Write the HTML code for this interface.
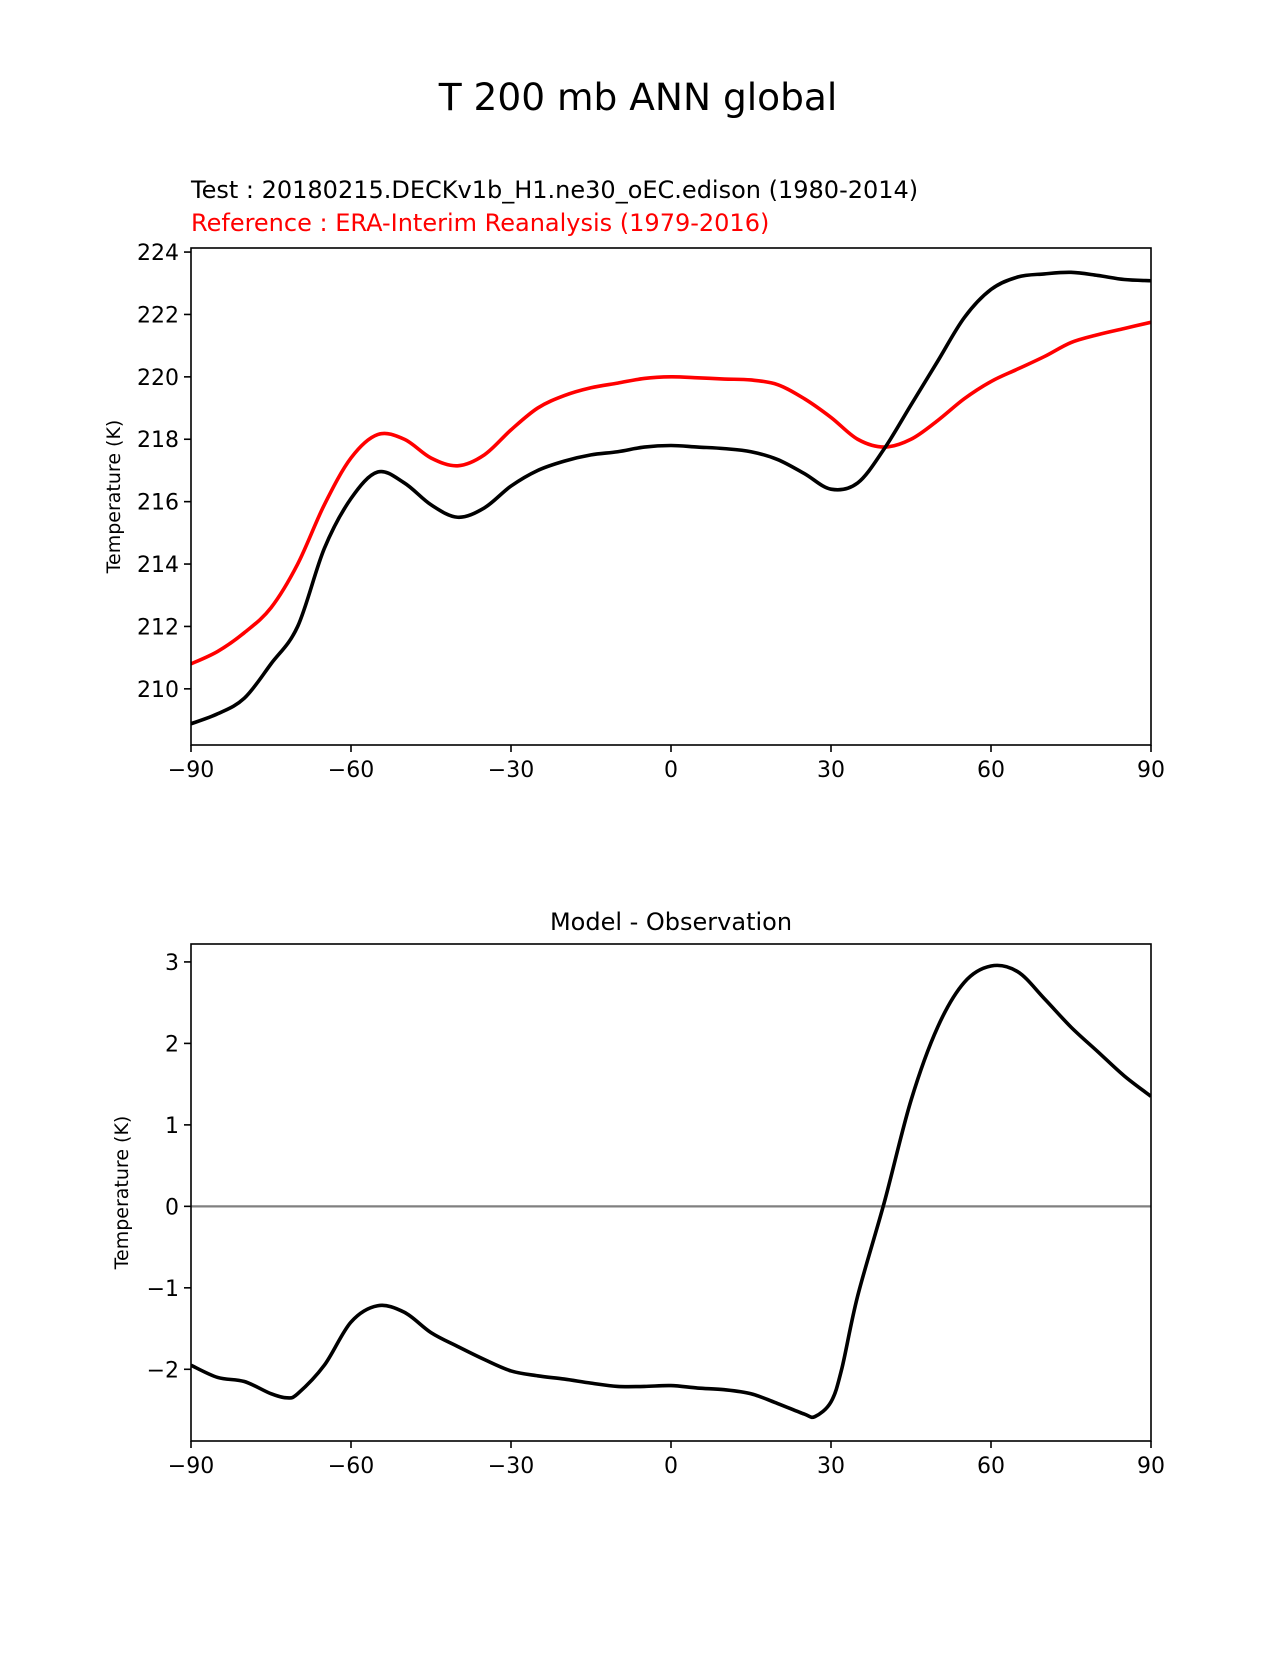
<!DOCTYPE html>
<html><head><meta charset="utf-8"><style>
body{margin:0;background:#fff}
svg text{font-family:"DejaVu Sans","Liberation Sans",sans-serif}
</style></head><body>
<svg id="fig" width="1275" height="1650" viewBox="0 0 1275 1650" xmlns="http://www.w3.org/2000/svg">
<rect width="1275" height="1650" fill="#fff"/>
<text x="638" y="110" font-size="37.5" text-anchor="middle">T 200 mb ANN global</text>
<text x="191" y="198" font-size="24">Test : 20180215.DECKv1b_H1.ne30_oEC.edison (1980-2014)</text>
<text x="191" y="231" font-size="24" fill="#ff0000">Reference : ERA-Interim Reanalysis (1979-2016)</text>
<text x="671" y="930" font-size="24" text-anchor="middle">Model - Observation</text>
<g id="topg"></g>
<g id="botg"></g>
</svg>
<script>
const lats = [-90,-85,-80,-75,-70,-65,-60,-55,-50,-45,-40,-35,-30,-25,-20,-15,-10,-5,0,5,10,15,20,25,30,35,40,45,50,55,60,65,70,75,80,85,90];
const testVals = [208.88,209.2,209.7,210.8,212.0,214.5,216.1,216.95,216.6,215.9,215.5,215.8,216.5,217.0,217.3,217.5,217.6,217.75,217.8,217.75,217.7,217.6,217.35,216.9,216.4,216.6,217.7,219.1,220.5,221.9,222.8,223.2,223.3,223.35,223.25,223.12,223.08];
const refVals = [210.8,211.2,211.8,212.6,214.0,215.9,217.4,218.15,218.0,217.4,217.15,217.5,218.3,219.0,219.4,219.65,219.8,219.95,220.0,219.97,219.93,219.9,219.75,219.3,218.7,218.0,217.75,218.0,218.6,219.3,219.85,220.25,220.65,221.1,221.35,221.55,221.75];
const diffLats = [-90,-85,-80,-75,-72,-70,-65,-60,-55,-50,-45,-40,-35,-30,-25,-20,-15,-10,-5,0,5,10,15,20,25,27,30,32,35,40,45,50,55,60,65,70,75,80,85,90];
const diffVals = [-1.95,-2.1,-2.15,-2.3,-2.35,-2.3,-1.95,-1.42,-1.22,-1.3,-1.55,-1.72,-1.88,-2.02,-2.08,-2.12,-2.17,-2.21,-2.21,-2.2,-2.23,-2.25,-2.3,-2.42,-2.55,-2.58,-2.4,-2.0,-1.1,0.05,1.3,2.2,2.75,2.95,2.88,2.55,2.2,1.9,1.6,1.35];
const xTicks = [-90,-60,-30,0,30,60,90];
const xTickLabels = ['\u221290','\u221260','\u221230','0','30','60','90'];
const topYTicks = [210,212,214,216,218,220,222,224];
const botYTicks = [-2,-1,0,1,2,3];
const botYTickLabels = ['\u22122','\u22121','0','1','2','3'];

const NS='http://www.w3.org/2000/svg';
function mk(parent,tag,attrs){const e=document.createElementNS(NS,tag);for(const k in attrs)e.setAttribute(k,attrs[k]);parent.appendChild(e);return e;}
function smooth(pts){let d='M'+pts[0][0].toFixed(2)+','+pts[0][1].toFixed(2);
 for(let i=0;i<pts.length-1;i++){const p0=pts[Math.max(i-1,0)],p1=pts[i],p2=pts[i+1],p3=pts[Math.min(i+2,pts.length-1)];
 const c1=[p1[0]+(p2[0]-p0[0])/6,p1[1]+(p2[1]-p0[1])/6],c2=[p2[0]-(p3[0]-p1[0])/6,p2[1]-(p3[1]-p1[1])/6];
 d+='C'+c1[0].toFixed(2)+','+c1[1].toFixed(2)+' '+c2[0].toFixed(2)+','+c2[1].toFixed(2)+' '+p2[0].toFixed(2)+','+p2[1].toFixed(2);}
 return d;}
function panel(g,box,ymin,ymax,yt,ytl,ylabelX,prefix){
 const x=v=>box.l+(v+90)/180*(box.r-box.l);
 const y=v=>box.b-(v-ymin)/(ymax-ymin)*(box.b-box.t);
 const clipId=prefix+'-clip';
 const cp=mk(g,'clipPath',{id:clipId});mk(cp,'rect',{x:box.l,y:box.t,width:box.r-box.l,height:box.b-box.t});
 xTicks.forEach((v,i)=>{const t=mk(g,'line',{x1:x(v),x2:x(v),y1:box.b,y2:box.b+7,stroke:'#000','stroke-width':1.6});
  
  const tx=mk(g,'text',{x:x(v),y:box.b+32,'font-size':22,'text-anchor':'middle'});tx.textContent=xTickLabels[i];
  });
 yt.forEach((v,i)=>{const t=mk(g,'line',{x1:box.l-7,x2:box.l,y1:y(v),y2:y(v),stroke:'#000','stroke-width':1.6});
  
  const tx=mk(g,'text',{x:box.l-12,y:y(v)+8,'font-size':22,'text-anchor':'end'});tx.textContent=ytl[i];
  });
 const yl=mk(g,'text',{x:ylabelX,y:(box.t+box.b)/2,'font-size':19,'text-anchor':'middle',transform:'rotate(-90 '+ylabelX+' '+((box.t+box.b)/2)+')'});
 yl.textContent='Temperature (K)';
 
 return {x,y,clipId};
}
const topPanel=document.getElementById('topg'),botPanel=document.getElementById('botg');
const tb={l:191,r:1151,t:248,b:745};
const A=panel(topPanel,tb,208.2,224.13,topYTicks,topYTicks.map(String),120,'top');
const refPath=mk(topPanel,'path',{d:smooth(lats.map((v,i)=>[A.x(v),A.y(refVals[i])])),fill:'none',stroke:'#ff0000','stroke-width':3.6,'clip-path':'url(#'+A.clipId+')'});


const testPath=mk(topPanel,'path',{d:smooth(lats.map((v,i)=>[A.x(v),A.y(testVals[i])])),fill:'none',stroke:'#000','stroke-width':3.6,'clip-path':'url(#'+A.clipId+')'});


const f1=mk(topPanel,'rect',{x:tb.l,y:tb.t,width:tb.r-tb.l,height:tb.b-tb.t,fill:'none',stroke:'#000','stroke-width':1.6});



const bb={l:191,r:1151,t:944,b:1441};
const B=panel(botPanel,bb,-2.88,3.22,botYTicks,botYTickLabels,128,'diff');
const zl=mk(botPanel,'line',{x1:bb.l,x2:bb.r,y1:B.y(0),y2:B.y(0),stroke:'#808080','stroke-width':2.2});


const dp=mk(botPanel,'path',{d:smooth(diffLats.map((v,i)=>[B.x(v),B.y(diffVals[i])])),fill:'none',stroke:'#000','stroke-width':3.6,'clip-path':'url(#'+B.clipId+')'});


const f2=mk(botPanel,'rect',{x:bb.l,y:bb.t,width:bb.r-bb.l,height:bb.b-bb.t,fill:'none',stroke:'#000','stroke-width':1.6});


</script>
</body></html>
